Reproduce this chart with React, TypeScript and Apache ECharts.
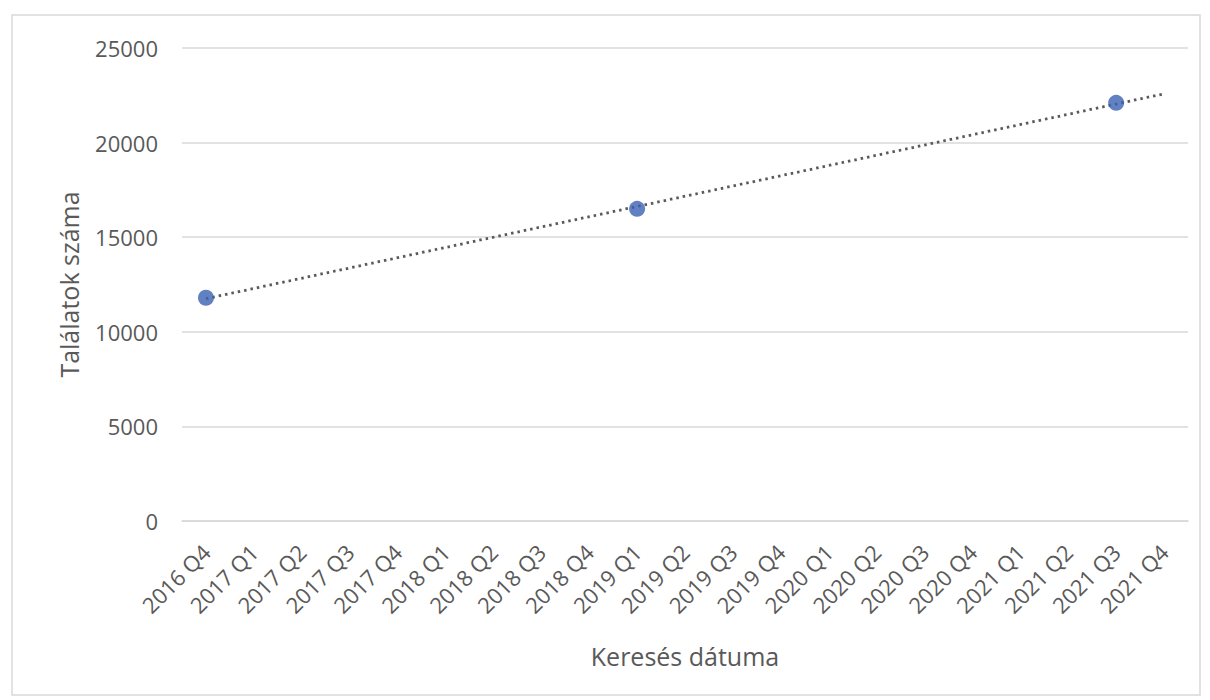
import React, { useEffect, useRef } from "react";
import * as echarts from "echarts";

const categories = [
  "2016 Q4", "2017 Q1", "2017 Q2", "2017 Q3", "2017 Q4",
  "2018 Q1", "2018 Q2", "2018 Q3", "2018 Q4",
  "2019 Q1", "2019 Q2", "2019 Q3", "2019 Q4",
  "2020 Q1", "2020 Q2", "2020 Q3", "2020 Q4",
  "2021 Q1", "2021 Q2", "2021 Q3", "2021 Q4",
];
const pointCategories = ["2016 Q4", "2019 Q1", "2021 Q3"];
const pointValues = [11800, 16500, 22100];
const trendCategories = ["2016 Q4", "2021 Q4"];
const trendValues = [11750, 22580];
const yTicks = { min: 0, max: 25000, interval: 5000 };
const xTitle = "Keresés dátuma";
const yTitle = "Találatok száma";

const FONT = "Open Sans";
const TXT = "#595959";

export default function App() {
  const ref = useRef<HTMLDivElement>(null);
  useEffect(() => {
    if (!ref.current) return;
    const chart = echarts.init(ref.current, null, { renderer: "svg" });
    chart.setOption({
      animation: false,
      backgroundColor: "#ffffff",
      textStyle: { fontFamily: FONT, color: TXT },
      graphic: [
        {
          type: "rect",
          shape: { x: 4, y: 7, width: 1188, height: 680 },
          style: { fill: "none", stroke: "#d9d9d9", lineWidth: 1.5 },
          silent: true,
        },
      ],
      grid: { left: 174, top: 40, width: 1006, height: 473, containLabel: false },
      xAxis: {
        type: "category",
        data: categories,
        boundaryGap: true,
        axisLine: { show: true, lineStyle: { color: "#d9d9d9", width: 1.5 } },
        axisTick: { show: false },
        axisLabel: {
          rotate: 45,
          interval: 0,
          margin: 27,
          fontFamily: FONT,
          fontSize: 22,
          color: TXT,
        },
        name: xTitle,
        nameLocation: "middle",
        nameGap: 122,
        nameTextStyle: { fontFamily: FONT, fontSize: 25, color: TXT },
      },
      yAxis: {
        type: "value",
        min: yTicks.min,
        max: yTicks.max,
        interval: yTicks.interval,
        axisLine: { show: false },
        axisTick: { show: false },
        splitLine: { lineStyle: { color: "#d9d9d9", width: 1.5 } },
        axisLabel: {
          margin: 24,
          fontFamily: FONT,
          fontSize: 22,
          color: TXT,
          formatter: (v: number) => String(v),
        },
        name: yTitle,
        nameLocation: "middle",
        nameGap: 101,
        nameRotate: 90,
        nameTextStyle: { fontFamily: FONT, fontSize: 25, color: TXT },
      },
      series: [
        {
          type: "line",
          name: "trend",
          data: trendCategories.map((c, i) => [c, trendValues[i]]),
          showSymbol: false,
          symbol: "none",
          lineStyle: { color: "#5a5a5a", width: 2.8, type: [2.5, 4] },
          z: 2,
        },
        {
          type: "scatter",
          name: "points",
          data: pointCategories.map((c, i) => [c, pointValues[i]]),
          symbol: "circle",
          symbolSize: 16,
          itemStyle: { color: "#3A62B3" },
          z: 3,
        },
      ],
    });
    return () => chart.dispose();
  }, []);
  return <div ref={ref} style={{ width: 1202, height: 692 }} />;
}
